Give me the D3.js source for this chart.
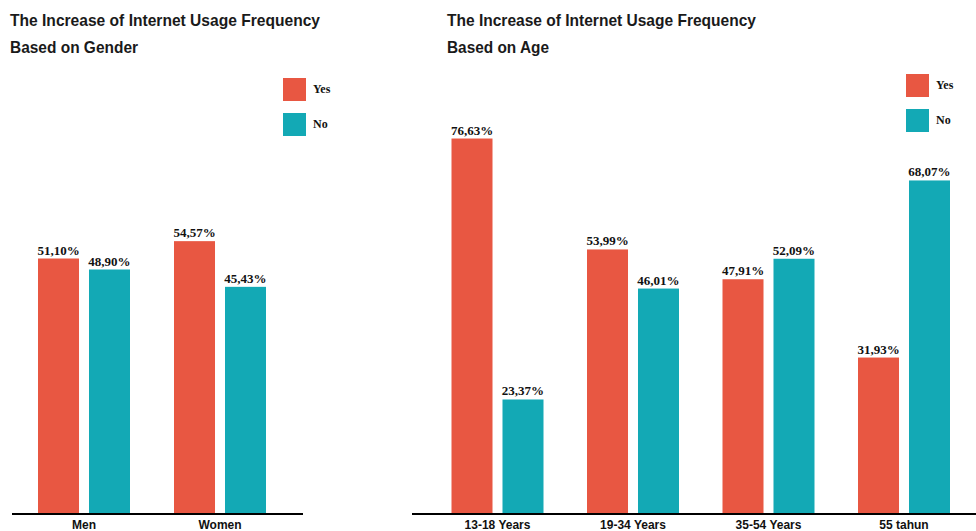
<!DOCTYPE html>
<html>
<head>
<meta charset="utf-8">
<script src="https://cdn.jsdelivr.net/npm/d3@7"></script>
<style>
  body { margin: 0; background: #fff; }
  .title { font-family: "Liberation Sans", Arial, sans-serif; font-weight: bold; }
  .val, .leg { font-family: "Liberation Serif", "Times New Roman", serif; font-weight: bold; }
  .cat { font-family: "Liberation Sans", Arial, sans-serif; font-weight: bold; }
</style>
</head>
<body>
<div id="vis"></div>
<script>
// data
var series = ["Yes", "No"];
var genderCats = ["Men", "Women"];
var genderYes = [51.10, 54.57];
var genderNo = [48.90, 45.43];
var ageCats = ["13-18 Years", "19-34 Years", "35-54 Years", "55 tahun"];
var ageYes = [76.63, 53.99, 47.91, 31.93];
var ageNo = [23.37, 46.01, 52.09, 68.07];

var w = 976, h = 531;
var colors = d3.scaleOrdinal().domain(series).range(["#E85742", "#13A9B5"]);
var fmt = v => v.toFixed(2).replace(".", ",") + "%";

var svg = d3.select("#vis").append("svg")
  .attr("width", w).attr("height", h);

function drawChart(opt) {
  var g = svg.append("g");
  var rows = opt.cats.map((c, i) => ({cat: c, Yes: opt.yes[i], No: opt.no[i]}));

  var x0 = d3.scaleBand().domain(opt.cats).range(opt.xRange);
  var x1 = d3.scaleBand().domain(series)
             .range([x0.bandwidth() / 2 - 46, x0.bandwidth() / 2 + 46])
             .paddingInner(0.196);
  var y = d3.scaleLinear().domain([0, 100]).range(opt.yRange);

  // titles
  opt.title.forEach((t, i) => {
    g.append("text").attr("class", "title")
      .attr("x", opt.titleX).attr("y", 26 + i * 27)
      .attr("font-size", 17)
      .attr("textLength", opt.titleLen[i]).attr("lengthAdjust", "spacingAndGlyphs")
      .attr("fill", "#1a1a1a")
      .text(t);
  });

  var grp = g.selectAll(".grp").data(rows).enter().append("g")
    .attr("transform", d => `translate(${x0(d.cat)},0)`);

  var bars = grp.selectAll("g").data(d => series.map(s => ({key: s, value: d[s]})))
    .enter();

  bars.append("rect")
    .attr("x", d => x1(d.key))
    .attr("width", x1.bandwidth())
    .attr("y", d => y(d.value))
    .attr("height", d => y(0) - y(d.value))
    .attr("fill", d => colors(d.key));

  bars.append("text").attr("class", "val")
    .attr("x", d => x1(d.key) + x1.bandwidth() / 2)
    .attr("y", d => y(d.value) - 4)
    .attr("text-anchor", "middle")
    .attr("font-size", 13)
    .attr("fill", "#111")
    .text(d => fmt(d.value));

  // axis
  var ax = g.append("g").attr("transform", `translate(0,${y(0)})`)
    .call(d3.axisBottom(x0).tickSize(0).tickPadding(6));
  ax.select(".domain").attr("d", `M${opt.axisX[0]},0H${opt.axisX[1]}`)
    .attr("stroke", "#000").attr("stroke-width", 2.2);
  ax.selectAll("text").attr("class", "cat")
    .attr("font-size", 12).attr("fill", "#111");

  // legend
  var leg = g.selectAll(".leg").data(series).enter().append("g")
    .attr("transform", (d, i) => `translate(${opt.legX},${opt.legY + i * 35})`);
  leg.append("rect").attr("width", 23).attr("height", 23).attr("fill", d => colors(d));
  leg.append("text").attr("class", "leg")
    .attr("x", 30).attr("y", 15).attr("font-size", 12).attr("fill", "#111")
    .text(d => d);
}

drawChart({
  cats: genderCats, yes: genderYes, no: genderNo,
  xRange: [16, 288], yRange: [514, 14], axisX: [12, 303],
  title: ["The Increase of Internet Usage Frequency", "Based on Gender"],
  titleLen: [310, 128], titleX: 10,
  legX: 283, legY: 78
});

drawChart({
  cats: ageCats, yes: ageYes, no: ageNo,
  xRange: [429.75, 971.75], yRange: [514, 24], axisX: [412, 976],
  title: ["The Increase of Internet Usage Frequency", "Based on Age"],
  titleLen: [309, 102], titleX: 447,
  legX: 906, legY: 74
});
</script>
</body>
</html>
